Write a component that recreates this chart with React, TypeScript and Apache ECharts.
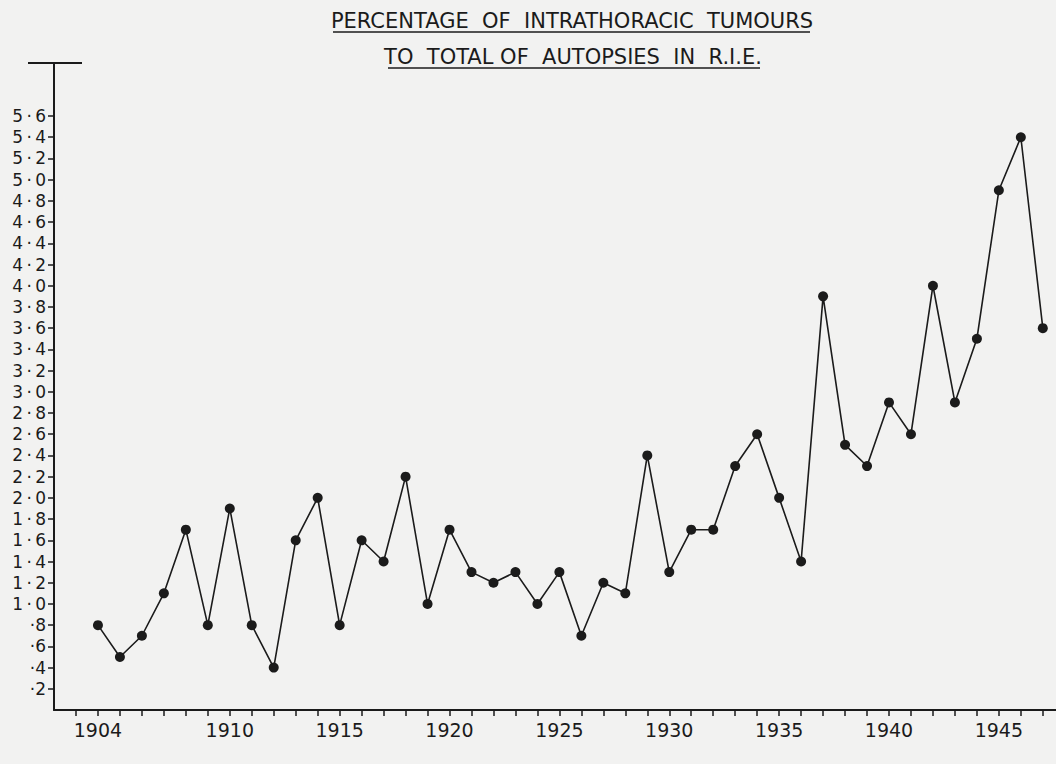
import React, { useEffect, useRef } from "react";
import * as echarts from "echarts";

const years = [
  1904, 1905, 1906, 1907, 1908, 1909, 1910, 1911, 1912, 1913, 1914, 1915,
  1916, 1917, 1918, 1919, 1920, 1921, 1922, 1923, 1924, 1925, 1926, 1927,
  1928, 1929, 1930, 1931, 1932, 1933, 1934, 1935, 1936, 1937, 1938, 1939,
  1940, 1941, 1942, 1943, 1944, 1945, 1946, 1947,
];
const percentages = [
  0.8, 0.5, 0.7, 1.1, 1.7, 0.8, 1.9, 0.8, 0.4, 1.6, 2.0, 0.8,
  1.6, 1.4, 2.2, 1.0, 1.7, 1.3, 1.2, 1.3, 1.0, 1.3, 0.7, 1.2,
  1.1, 2.4, 1.3, 1.7, 1.7, 2.3, 2.6, 2.0, 1.4, 3.9, 2.5, 2.3,
  2.9, 2.6, 4.0, 2.9, 3.5, 4.9, 5.4, 3.6,
];
const yTickValues = [
  0.2, 0.4, 0.6, 0.8, 1.0, 1.2, 1.4, 1.6, 1.8, 2.0, 2.2, 2.4, 2.6, 2.8,
  3.0, 3.2, 3.4, 3.6, 3.8, 4.0, 4.2, 4.4, 4.6, 4.8, 5.0, 5.2, 5.4, 5.6,
];
const xTickYears = [
  1903, 1904, 1905, 1906, 1907, 1908, 1909, 1910, 1911, 1912, 1913, 1914,
  1915, 1916, 1917, 1918, 1919, 1920, 1921, 1922, 1923, 1924, 1925, 1926,
  1927, 1928, 1929, 1930, 1931, 1932, 1933, 1934, 1935, 1936, 1937, 1938,
  1939, 1940, 1941, 1942, 1943, 1944, 1945, 1946, 1947,
];
const xLabelYears = [1904, 1910, 1915, 1920, 1925, 1930, 1935, 1940, 1945];
const titleLines = [
  "PERCENTAGE  OF  INTRATHORACIC  TUMOURS",
  "TO  TOTAL OF  AUTOPSIES  IN  R.I.E.",
];

const INK = "#1b1b1b";
const FONT = "'DejaVu Sans', sans-serif";

function formatY(v: number): string {
  const t = Math.round(v * 10);
  const whole = Math.floor(t / 10);
  const dec = t % 10;
  return whole === 0 ? `\u00b7${dec}` : `${whole}\u2009\u00b7\u2009${dec}`;
}

export default function App() {
  const ref = useRef<HTMLDivElement>(null);

  useEffect(() => {
    if (!ref.current) return;
    const chart = echarts.init(ref.current, null, { renderer: "svg" });
    chart.setOption({
      animation: false,
      backgroundColor: "#f2f2f1",
      grid: { left: 54, right: 0, top: 63, bottom: 54, containLabel: false },
      xAxis: {
        type: "value",
        min: 1902,
        max: 1947.6,
        interval: 1,
        axisLine: { show: true, lineStyle: { color: INK, width: 2 } },
        axisTick: {
          show: true,
          length: 6,
          customValues: xTickYears,
          lineStyle: { color: INK, width: 1.5 },
        },
        axisLabel: {
          customValues: xLabelYears,
          formatter: (v: number) => String(v),
          margin: 10,
          fontSize: 19,
          fontFamily: FONT,
          color: INK,
        },
        splitLine: { show: false },
      },
      yAxis: {
        type: "value",
        min: 0,
        max: 6.1,
        interval: 0.2,
        axisLine: { show: true, lineStyle: { color: INK, width: 2 } },
        axisTick: {
          show: true,
          length: 6,
          customValues: yTickValues,
          lineStyle: { color: INK, width: 1.5 },
        },
        axisLabel: {
          customValues: yTickValues,
          formatter: (v: number) => formatY(v),
          margin: 8,
          fontSize: 17,
          fontFamily: FONT,
          color: INK,
        },
        splitLine: { show: false },
      },
      series: [
        {
          type: "line",
          data: years.map((y, i) => [y, percentages[i]]),
          symbol: "circle",
          symbolSize: 10,
          lineStyle: { color: INK, width: 1.6 },
          itemStyle: { color: INK },
        },
      ],
      graphic: [
        {
          type: "line",
          shape: { x1: 28, y1: 63, x2: 82, y2: 63 },
          style: { stroke: INK, lineWidth: 2 },
        },
        {
          type: "text",
          x: 572,
          y: 21,
          style: {
            text: titleLines[0],
            align: "center",
            verticalAlign: "middle",
            font: `21px ${FONT}`,
            fill: INK,
          },
        },
        {
          type: "line",
          shape: { x1: 333, y1: 32, x2: 810, y2: 32 },
          style: { stroke: INK, lineWidth: 1.5 },
        },
        {
          type: "text",
          x: 573,
          y: 57,
          style: {
            text: titleLines[1],
            align: "center",
            verticalAlign: "middle",
            font: `21px ${FONT}`,
            fill: INK,
          },
        },
        {
          type: "line",
          shape: { x1: 388, y1: 68, x2: 760, y2: 68 },
          style: { stroke: INK, lineWidth: 1.5 },
        },
      ],
    });
    return () => chart.dispose();
  }, []);

  return (
    <div
      ref={ref}
      style={{ position: "fixed", left: 0, top: 0, width: 1056, height: 764 }}
    />
  );
}
